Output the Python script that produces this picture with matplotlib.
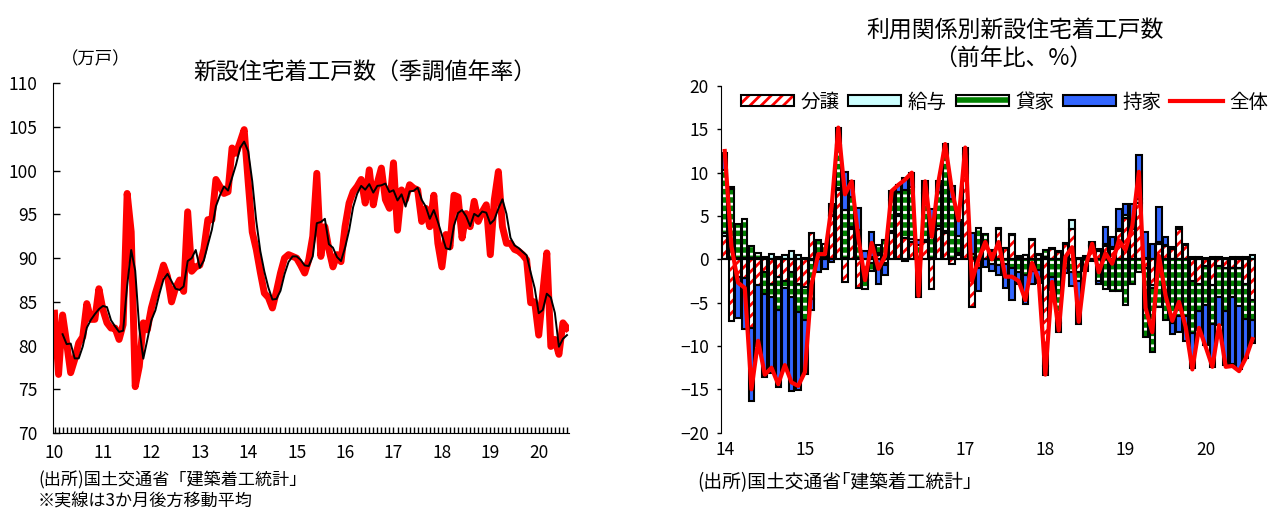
import numpy as np
import pandas as pd
import matplotlib
matplotlib.use('Agg')
import matplotlib.pyplot as plt
from matplotlib.patches import Patch
from matplotlib.lines import Line2D
from matplotlib.legend_handler import HandlerTuple

plt.rcParams['font.family'] = ['Noto Sans CJK JP', 'DejaVu Sans']
plt.rcParams['hatch.linewidth'] = 2.0

# --- left: housing starts, seasonally adjusted annual rate (10k units), 2010.01-2020.08
starts = [
    83.7, 76.7, 83.5, 80.3, 76.9, 78.4, 80.3, 81.0, 84.8, 83.0, 83.0, 86.5,   # 2010
    84.1, 82.6, 82.0, 82.0, 80.7, 82.4, 97.4, 93.0, 75.3, 77.6, 82.6, 81.8,   # 2011
    84.3, 86.0, 87.5, 89.2, 87.9, 85.0, 86.6, 87.5, 86.2, 95.3, 88.5, 89.0,   # 2012
    89.2, 91.0, 94.4, 94.4, 99.0, 98.2, 97.4, 97.6, 102.6, 102.0, 103.3, 104.7,  # 2013
    98.7, 93.0, 91.0, 88.4, 86.0, 85.5, 84.3, 86.2, 88.3, 90.0, 90.4, 90.2,   # 2014
    90.0, 89.2, 88.3, 89.8, 92.5, 99.7, 90.2, 93.6, 91.0, 89.0, 90.4, 89.6,   # 2015
    93.6, 96.3, 97.6, 98.2, 99.0, 96.3, 100.1, 96.1, 98.6, 100.3, 96.7, 95.7,  # 2016
    100.9, 93.2, 97.8, 96.7, 98.4, 98.0, 97.8, 94.2, 95.7, 93.6, 97.2, 91.7,  # 2017
    89.0, 92.7, 91.3, 97.2, 97.0, 92.3, 95.1, 93.6, 96.5, 94.2, 95.3, 96.1,   # 2018
    90.4, 96.7, 99.9, 93.6, 91.7, 91.7, 91.0, 90.8, 90.4, 89.8, 84.9, 85.0,   # 2019
    81.2, 86.0, 90.6, 79.9, 80.7, 79.0, 82.6, 82.0,                           # 2020
]
left_years = ['10', '11', '12', '13', '14', '15', '16', '17', '18', '19', '20']

# --- right: contribution to y/y change by type (%), 2014.01-2020.08
bunjo = [2.7, -7.1, -2.0, -2.2, -7.9, -3.0, -1.5, -2.8, -2.0, -2.5, -1.5, -2.8,
         -3.2, 3.0, 0.4, 0.3, 5.0, 8.0, -2.6, 3.5, -3.3, -1.8, 0.3, 0.5,
         -0.4, 3.0, 5.0, 2.5, 2.0, -4.3, 2.0, -3.4, 3.5, 3.0, -0.5, 0.5,
         10.0, -5.5, -1.0, 2.0, 1.0, 3.5, 1.3, 2.8, 0.3, 0.5, 2.2, 0.5,
         -12.3, 1.2, 0.8, 1.8, 3.5, -1.5, 0.3, 1.5, 1.0, 1.5, 1.2, 3.3,
         4.8, 3.5, 6.5, -1.0, -3.0, 1.8, 1.5, 1.2, 3.5, 1.6, -2.5, -2.8,
         -0.8, -3.0, -0.8, -1.0, -1.0, -1.0, -2.8, -4.7]
kyuyo = [0.3, 0.1, 0.2, 0.2, 0.2, 0.2, 0.3, 0.6, 0.3, 0.5, 1.0, 0.5,
         0.2, -0.1, 0.1, 0.1, 0.1, 0.2, 0.2, 0.2, 0.1, -0.6, -0.4, 0.2,
         -0.2, 0.3, 0.2, -0.2, 0.3, 0.1, 0.2, 0.2, 0.3, 0.3, 0.2, 0.2,
         0.2, 0.1, 0.1, 0.1, 0.1, 0.1, 0.0, 0.1, 0.1, 0.0, 0.1, 0.1,
         0.3, 0.1, 0.2, 0.1, 1.0, 0.2, 0.1, 0.1, 0.2, 0.3, 0.2, 0.2,
         0.3, 0.3, 0.5, 0.2, -0.3, 0.2, 0.1, 0.2, 0.2, 0.2, 0.3, 0.3,
         0.2, 0.3, 0.3, 0.2, 0.3, 0.3, 0.3, 0.5]
kashiya = [7.3, 8.0, 3.9, 4.5, 1.3, 0.5, -2.5, -1.6, -3.8, -0.8, -2.8, -3.3,
           -3.8, -4.5, 1.7, 1.4, 1.3, 5.0, 5.5, 3.5, 3.3, -1.0, -0.9, 1.0,
           2.2, 3.5, 2.6, 5.5, 6.0, 1.5, 5.5, 3.7, 4.0, 9.0, 6.8, 2.0,
           2.0, 0.5, 3.5, 0.8, -0.5, -0.6, -0.5, -1.0, -1.5, -1.8, -1.3, -1.2,
           0.8, -2.0, -7.4, -1.0, -1.5, -1.0, -0.8, 0.4, -2.5, -3.4, -3.6, -3.6,
           -5.3, -2.9, -1.5, -8.0, -7.4, -5.5, -7.0, -7.4, -6.5, -6.5, -6.0, -3.2,
           -4.5, -4.5, -3.5, -5.0, -3.3, -4.4, -4.1, -2.3]
mochiie = [2.0, 0.2, -4.8, -5.8, -8.5, -7.0, -9.6, -8.7, -8.9, -9.4, -10.9, -9.0,
           -6.2, -1.3, -1.5, -1.1, -0.3, 2.0, 4.4, 1.8, 2.5, 1.0, 2.9, -2.8,
           -1.2, 1.1, 0.8, 1.4, 1.7, 0.6, 1.3, 1.9, 1.2, 1.0, 1.5, 1.8,
           0.7, 2.4, -2.7, -0.9, -0.8, -1.2, -2.8, -3.7, -1.4, -3.3, -1.5, -1.5,
           -1.0, -1.5, -1.0, -0.6, -1.6, -5.0, -0.5, -0.2, -0.3, 1.9, 1.2, 2.3,
           1.3, 2.6, 5.0, 3.0, 1.8, 4.0, 1.0, -1.2, -1.9, -2.9, -4.0, -2.2,
           -4.6, -4.9, -3.3, -6.2, -7.8, -7.3, -4.5, -2.6]
zentai = [12.5, 1.5, -2.7, -3.3, -15.0, -9.4, -13.3, -12.5, -14.4, -12.2, -14.2, -14.6,
          -13.0, -2.9, 0.6, 0.6, 6.1, 15.2, 7.5, 9.0, 2.5, -2.4, 1.9, -1.1,
          0.4, 7.9, 8.6, 9.2, 10.0, -4.2, 9.0, 2.6, 9.0, 13.3, 8.0, 4.5,
          12.9, -2.5, 0.0, 2.0, 0.0, 2.0, -2.0, -2.0, -2.5, -4.7, -0.4, -2.3,
          -13.3, -2.6, -8.2, 0.3, 1.4, -7.2, -0.9, 1.8, -1.5, 0.7, -0.5, 2.2,
          1.1, 3.8, 10.1, -5.6, -8.4, 0.4, -4.2, -7.1, -4.9, -7.8, -12.7, -7.9,
          -10.1, -12.4, -7.6, -12.4, -12.3, -12.9, -11.4, -9.2]
right_years = ['14', '15', '16', '17', '18', '19', '20']

W, H = 1276, 511


def fx(px):
    return px / W


def fy(py):
    return 1 - py / H


fig = plt.figure(figsize=(W / 100, H / 100), dpi=100)

# ---------------- left chart
ax1 = fig.add_axes([fx(52.5), fy(433), (569 - 52.5) / W, (433 - 83.3) / H])
m = np.arange(len(starts))
ma3 = pd.Series(starts).rolling(3).mean()
ax1.plot(m, starts, color='#ff0000', lw=5)
ax1.plot(m, ma3, color='black', lw=1.4)
ax1.set_xlim(-0.5, 127.5)
ax1.set_ylim(70, 110)
ax1.set_yticks(np.arange(70, 111, 5))
ax1.set_xticks(np.arange(0, len(starts), 12))
ax1.set_xticklabels(left_years)
ax1.set_xticks(np.arange(len(starts)), minor=True)
ax1.tick_params(axis='x', which='both', direction='in', length=4, width=1, pad=8, labelsize=12.5)
ax1.tick_params(axis='y', direction='in', length=5, width=1, pad=11, labelsize=12.5)
for s in ['top', 'right']:
    ax1.spines[s].set_visible(False)

fig.text(fx(96), fy(59), '（万戸）', ha='center', va='center', fontsize=12.5)
fig.text(fx(365), fy(72), '新設住宅着工戸数（季調値年率）', ha='center', va='center', fontsize=16.5)
fig.text(fx(38), fy(480), '(出所)国土交通省「建築着工統計」', ha='left', va='center', fontsize=12.3)
fig.text(fx(38), fy(501), '※実線は3か月後方移動平均', ha='left', va='center', fontsize=12.3)

# ---------------- right chart
ax2 = fig.add_axes([fx(721.4), fy(432.7), 534.4 / W, (432.7 - 86) / H])
x = np.arange(len(zentai))
pos = np.zeros(len(x))
neg = np.zeros(len(x))
bw = 0.8
styles = [
    (bunjo, dict(facecolor='white', edgecolor='#ff0000', hatch='///')),
    (kyuyo, dict(facecolor='#ccffff', edgecolor='#ccffff')),
    (kashiya, dict(facecolor='#008000', edgecolor='white', hatch='--')),
    (mochiie, dict(facecolor='#3366ff', edgecolor='#3366ff')),
]
for vals, st in styles:
    v = np.array(vals)
    bottom = np.where(v >= 0, pos, neg)
    ax2.bar(x, v, bw, bottom=bottom, linewidth=0, zorder=2, **st)
    ax2.bar(x, v, bw, bottom=bottom, facecolor='none', edgecolor='black', linewidth=1.5, zorder=3)
    pos += np.where(v >= 0, v, 0)
    neg += np.where(v < 0, v, 0)

ax2.axhline(0, color='black', lw=1.5, zorder=4)
ax2.plot(x, zentai, color='#ff0000', lw=3, zorder=5)
ax2.set_xlim(-0.5, 79.5)
ax2.set_ylim(-20, 20)
ax2.set_yticks(np.arange(-20, 21, 5))
ax2.set_xticks(np.arange(0, len(zentai), 12))
ax2.set_xticklabels(right_years)
ax2.tick_params(axis='x', length=0, pad=6, labelsize=12.5)
ax2.tick_params(axis='y', direction='out', length=3, width=1, pad=6, labelsize=12.5)
for s in ['top', 'right', 'bottom']:
    ax2.spines[s].set_visible(False)

outline = dict(facecolor='none', edgecolor='black', linewidth=1.5)
handles = [
    (Patch(facecolor='white', edgecolor='#ff0000', hatch='///', linewidth=0), Patch(**outline)),
    (Patch(facecolor='#ccffff', edgecolor='#ccffff', linewidth=0), Patch(**outline)),
    (Patch(facecolor='#008000', edgecolor='white', hatch='--', linewidth=0), Patch(**outline)),
    (Patch(facecolor='#3366ff', edgecolor='#3366ff', linewidth=0), Patch(**outline)),
    Line2D([], [], color='#ff0000', lw=3),
]
labels = ['分譲', '給与', '貸家', '持家', '全体']
ax2.legend(handles, labels, handler_map={tuple: HandlerTuple(ndivide=1, pad=0)},
           loc='center left', bbox_to_anchor=(fx(741), fy(102)), bbox_transform=fig.transFigure,
           ncol=5, frameon=False, fontsize=14, handlelength=2.73, handleheight=0.45,
           handletextpad=0.33, columnspacing=0.45, borderpad=0, borderaxespad=0)

fig.text(fx(1015), fy(30), '利用関係別新設住宅着工戸数', ha='center', va='center', fontsize=16.5)
fig.text(fx(1013), fy(58), '（前年比、%）', ha='center', va='center', fontsize=16.5)
fig.text(fx(697), fy(483), '(出所)国土交通省｢建築着工統計｣', ha='left', va='center', fontsize=13.5)

fig.savefig('out.png', dpi=100)
